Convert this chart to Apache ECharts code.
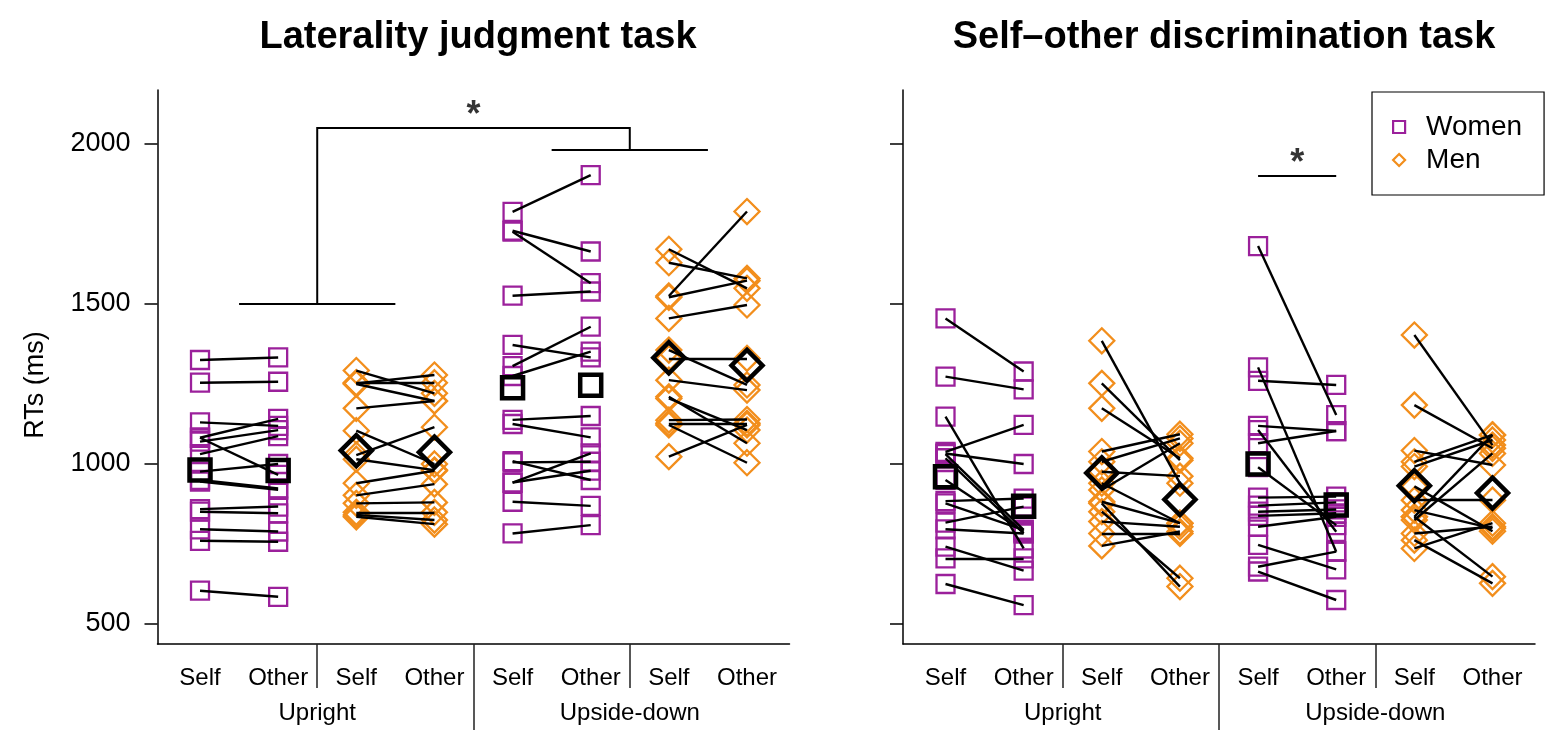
<!DOCTYPE html>
<html>
<head>
<meta charset="utf-8">
<title>RTs by task</title>
<script src="https://cdn.jsdelivr.net/npm/echarts@6.0.0/dist/echarts.min.js"></script>
<style>
  html, body { margin: 0; padding: 0; background: #fff; }
  #container { width: 1559px; height: 754px; }
</style>
</head>
<body>
<div id="container"></div>
<script>
// x positions 1..8: women upright (1,2), men upright (3,4), women upside-down (5,6), men upside-down (7,8)
var conditionLabels = ['Self', 'Other', 'Self', 'Other', 'Self', 'Other', 'Self', 'Other'];
var orientationLabels = ['Upright', 'Upside-down'];
var yTicks = [500, 1000, 1500, 2000];

// Laterality judgment task, RTs in ms (one entry per participant)
var ljtUprightWomenSelf  = [1325, 1254, 1130, 1082, 1070, 1082, 1031, 976, 950, 945, 859, 851, 796, 760, 604];
var ljtUprightWomenOther = [1333, 1257, 1119, 1141, 1106, 966, 1087, 1000, 924, 919, 867, 846, 789, 757, 585];
var ljtUprightMenSelf    = [1292, 1254, 1252, 1250, 1174, 1104, 1028, 1015, 940, 902, 877, 849, 841, 835];
var ljtUprightMenOther   = [1221, 1254, 1278, 1197, 1197, 1000, 1115, 981, 979, 937, 880, 849, 825, 812];
var ljtInvertWomenSelf   = [1788, 1729, 1726, 1526, 1372, 1306, 1275, 1138, 1125, 1009, 1005, 942, 942, 882, 783];
var ljtInvertWomenOther  = [1903, 1664, 1565, 1539, 1333, 1429, 1351, 1150, 1083, 950, 1007, 1033, 979, 869, 809];
var ljtInvertMenSelf     = [1671, 1629, 1525, 1521, 1455, 1330, 1356, 1262, 1210, 1205, 1137, 1127, 1122, 1023];
var ljtInvertMenOther    = [1549, 1580, 1789, 1573, 1497, 1330, 1247, 1231, 1065, 1106, 1139, 1127, 1004, 1122];

// Self-other discrimination task
var sodUprightWomenSelf  = [1455, 1273, 1148, 1038, 1033, 1031, 1018, 950, 884, 877, 817, 796, 742, 705, 625];
var sodUprightWomenOther = [1289, 1233, 736, 1122, 1000, 794, 783, 788, 892, 794, 867, 783, 667, 705, 559];
var sodUprightMenSelf    = [1385, 1252, 1174, 1039, 1007, 976, 919, 940, 882, 877, 851, 820, 783, 744];
var sodUprightMenOther   = [940, 1012, 1018, 1093, 1080, 962, 1065, 815, 815, 617, 643, 804, 783, 789];
var sodInvertWomenSelf   = [1681, 1302, 1260, 1119, 1106, 1065, 990, 895, 851, 838, 804, 747, 679, 664, 870];
var sodInvertWomenOther  = [1153, 726, 1247, 1103, 788, 1103, 809, 898, 858, 846, 835, 671, 726, 575, 880];
var sodInvertMenSelf     = [1403, 1184, 1042, 1007, 992, 887, 856, 835, 825, 835, 783, 762, 736, 930];
var sodInvertMenOther    = [1059, 1049, 997, 1091, 1075, 887, 799, 1091, 1033, 648, 804, 627, 815, 790];

// group means, x = 1..8
var ljtMeans = [981, 980, 1042, 1037, 1238, 1246, 1332, 1308];
var sodMeans = [960, 868, 972, 889, 1000, 872, 932, 909];

// significance brackets (ms levels)
var ljtBracket = [1500, 1981, 2050]; // upright bar, upside-down bar, top bar
var sodBracket = [1900];

var PURPLE = '#9b209b';
var ORANGE = '#f28e1c';
var FONT = "'Liberation Sans', Arial, sans-serif";

var dom = document.getElementById('container');
var myChart = echarts.init(dom);

function points(arr, x) {
    return arr.map(function (v) { return [x, v]; });
}
function pairLines(selfArr, otherArr, x) {
    return selfArr.map(function (v, i) {
        return { coords: [[x, v], [x + 1, otherArr[i]]] };
    });
}

function panelSeries(gi, d, means, bracketLines, stars) {
    var list = [];
    list.push({
        name: 'Women', type: 'scatter', xAxisIndex: gi * 2, yAxisIndex: gi,
        symbol: 'rect', symbolSize: 18, z: 2,
        itemStyle: { color: 'rgba(255,255,255,0)', borderColor: PURPLE, borderWidth: 2.3, opacity: 1 },
        emphasis: { disabled: true },
        data: points(d[0], 1).concat(points(d[1], 2), points(d[4], 5), points(d[5], 6))
    });
    list.push({
        name: 'Men', type: 'scatter', xAxisIndex: gi * 2, yAxisIndex: gi,
        symbol: 'diamond', symbolSize: 25, z: 2,
        itemStyle: { color: 'rgba(255,255,255,0)', borderColor: ORANGE, borderWidth: 2.3, opacity: 1 },
        emphasis: { disabled: true },
        data: points(d[2], 3).concat(points(d[3], 4), points(d[6], 7), points(d[7], 8))
    });
    list.push({
        type: 'lines', coordinateSystem: 'cartesian2d', xAxisIndex: gi * 2, yAxisIndex: gi,
        z: 3, silent: true,
        lineStyle: { color: '#000', width: 2.4, opacity: 1 },
        data: pairLines(d[0], d[1], 1).concat(pairLines(d[2], d[3], 3),
              pairLines(d[4], d[5], 5), pairLines(d[6], d[7], 7))
    });
    list.push({
        type: 'scatter', xAxisIndex: gi * 2, yAxisIndex: gi,
        symbol: 'rect', symbolSize: 21, z: 4, silent: true,
        itemStyle: { color: 'rgba(255,255,255,0)', borderColor: '#000', borderWidth: 4.5, opacity: 1 },
        data: [[1, means[0]], [2, means[1]], [5, means[4]], [6, means[5]]]
    });
    list.push({
        type: 'scatter', xAxisIndex: gi * 2, yAxisIndex: gi,
        symbol: 'diamond', symbolSize: 31, z: 4, silent: true,
        itemStyle: { color: 'rgba(255,255,255,0)', borderColor: '#000', borderWidth: 4.5, opacity: 1 },
        data: [[3, means[2]], [4, means[3]], [7, means[6]], [8, means[7]]]
    });
    list.push({
        type: 'lines', coordinateSystem: 'cartesian2d', xAxisIndex: gi * 2, yAxisIndex: gi,
        polyline: true, z: 3, silent: true,
        lineStyle: { color: '#000', width: 2, opacity: 1 },
        data: bracketLines
    });
    list.push({
        type: 'scatter', xAxisIndex: gi * 2, yAxisIndex: gi,
        symbolSize: 0, z: 5, silent: true,
        itemStyle: { color: 'rgba(0,0,0,0)' },
        label: { show: true, formatter: '*', position: 'top', distance: -6,
                 fontSize: 36, fontWeight: 'bold', color: '#000', fontFamily: FONT },
        data: stars
    });
    return list;
}

function xAxes(gi) {
    return [{
        type: 'value', gridIndex: gi, min: 0.456, max: 8.544, position: 'bottom',
        axisLine: { show: true, onZero: false, lineStyle: { color: '#000', width: 1.5 } },
        axisTick: { show: true, customValues: [2.5, 6.5], length: 44, lineStyle: { color: '#222', width: 1.5 } },
        axisLabel: { customValues: [1, 2, 3, 4, 5, 6, 7, 8], margin: 22, fontSize: 24, color: '#000', fontFamily: FONT,
                     formatter: function (v) { return conditionLabels[Math.round(v) - 1]; } },
        splitLine: { show: false }
    }, {
        type: 'value', gridIndex: gi, min: 0.456, max: 8.544, position: 'bottom',
        axisLine: { show: false },
        axisTick: { show: true, customValues: [4.5], length: 86, lineStyle: { color: '#222', width: 1.5 } },
        axisLabel: { customValues: [2.5, 6.5], margin: 57, fontSize: 24, color: '#000', fontFamily: FONT,
                     formatter: function (v) { return v < 4.5 ? orientationLabels[0] : orientationLabels[1]; } },
        splitLine: { show: false }
    }];
}

function yAxis(gi, withLabels) {
    var ax = {
        type: 'value', gridIndex: gi, min: 437.5, max: 2168.75,
        axisLine: { show: true, lineStyle: { color: '#000', width: 1.5 } },
        axisTick: { show: true, customValues: yTicks, length: 13, lineStyle: { color: '#000', width: 1.5 } },
        axisLabel: { show: withLabels, customValues: yTicks, margin: 27, fontSize: 27, color: '#000', fontFamily: FONT,
                     formatter: function (v) { return String(v); } },
        splitLine: { show: false }
    };
    if (withLabels) {
        ax.name = 'RTs (ms)';
        ax.nameLocation = 'middle';
        ax.nameRotate = 90;
        ax.nameGap = 108;
        ax.nameTextStyle = { fontSize: 27, color: '#000', fontFamily: FONT, padding: [0, 36, 0, 0] };
    }
    return ax;
}

var ljtData = [ljtUprightWomenSelf, ljtUprightWomenOther, ljtUprightMenSelf, ljtUprightMenOther,
               ljtInvertWomenSelf, ljtInvertWomenOther, ljtInvertMenSelf, ljtInvertMenOther];
var sodData = [sodUprightWomenSelf, sodUprightWomenOther, sodUprightMenSelf, sodUprightMenOther,
               sodInvertWomenSelf, sodInvertWomenOther, sodInvertMenSelf, sodInvertMenOther];

var ljtBracketLines = [
    { coords: [[1.5, ljtBracket[0]], [3.5, ljtBracket[0]]] },
    { coords: [[5.5, ljtBracket[1]], [7.5, ljtBracket[1]]] },
    { coords: [[2.5, ljtBracket[0]], [2.5, ljtBracket[2]], [6.5, ljtBracket[2]], [6.5, ljtBracket[1]]] }
];
var sodBracketLines = [
    { coords: [[5, sodBracket[0]], [6, sodBracket[0]]] }
];

option = null;
option = {
    animation: false,
    backgroundColor: '#fff',
    title: [
        { text: 'Laterality judgment task', left: 473, top: 14, textAlign: 'center',
          textStyle: { fontSize: 38, fontWeight: 'bold', color: '#000', fontFamily: FONT } },
        { text: 'Self\u2013other discrimination task', left: 1219, top: 14, textAlign: 'center',
          textStyle: { fontSize: 38, fontWeight: 'bold', color: '#000', fontFamily: FONT } }
    ],
    legend: {
        data: [
            { name: 'Women', icon: 'rect', itemStyle: { color: '#fff', borderColor: PURPLE, borderWidth: 2.2 } },
            { name: 'Men', icon: 'diamond', itemStyle: { color: '#fff', borderColor: ORANGE, borderWidth: 2.2 } }
        ],
        orient: 'vertical',
        left: 1372, top: 92,
        padding: [19, 22, 19, 20],
        itemGap: 1,
        itemWidth: 12, itemHeight: 12,
        borderColor: '#000', borderWidth: 1.2, borderRadius: 0,
        backgroundColor: '#fff',
        selectedMode: false,
        textStyle: { fontSize: 28, lineHeight: 32, color: '#000', fontFamily: FONT, padding: [0, 0, 0, 16] }
    },
    grid: [
        { left: 157.5, top: 90, width: 632, height: 554 },
        { left: 903, top: 90, width: 632, height: 554 }
    ],
    xAxis: xAxes(0).concat(xAxes(1)),
    yAxis: [yAxis(0, true), yAxis(1, false)],
    series: panelSeries(0, ljtData, ljtMeans, ljtBracketLines, [[4.5, ljtBracket[2]]])
        .concat(panelSeries(1, sodData, sodMeans, sodBracketLines, [[5.5, sodBracket[0]]]))
};
if (option && typeof option === 'object') {
    myChart.setOption(option, true);
}
</script>
</body>
</html>
